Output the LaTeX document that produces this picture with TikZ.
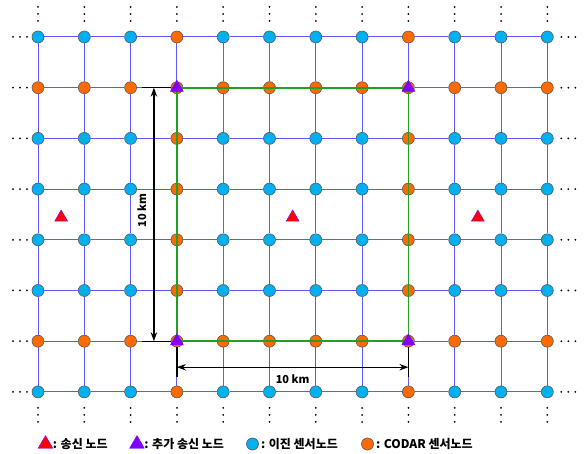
\documentclass[tikz,border=0pt]{standalone}
\usepackage{fontspec}
\newfontfamily\krfont{Noto Sans CJK KR}
\usetikzlibrary{shapes.geometric,positioning,calc,arrows.meta}
\definecolor{binblue}{HTML}{00B0F0}
\definecolor{codarorg}{HTML}{FF6A00}
\definecolor{addviol}{HTML}{7F00FF}
\definecolor{gridblue}{HTML}{5A5AFF}
\definecolor{boxgreen}{HTML}{22A022}
\tikzset{
  sensor/.style={circle,draw=black!65,line width=0.6pt,minimum size=12pt,inner sep=0pt},
  txnode/.style={regular polygon,regular polygon sides=3,minimum size=15pt,inner sep=0pt,draw=addviol,line width=0.4pt,fill=red},
  gridline/.style={gridblue,line width=1pt},
  dimline/.style={black,line width=1.2pt},
  keytext/.style={inner sep=1pt,font=\krfont\bfseries\fontsize{12}{14}\selectfont}
}
\begin{document}
\begin{tikzpicture}[x=1pt,y=-1pt,>={Stealth[length=9pt,width=6.5pt]},line join=round,font=\krfont\bfseries\fontsize{11}{13}\selectfont]
	\def\dx{46.3} \def\dy{50.7} % khoảng cách lưới
	\useasboundingbox (0,0) rectangle (584,454);
	% các nút cảm biến
	\foreach \i in {0,...,11}
	\foreach \j in {0,...,7}{
		\def\fc{binblue}
		\ifnum\i=3 \def\fc{codarorg}\fi
		\ifnum\i=8 \def\fc{codarorg}\fi
		\ifnum\j=1 \def\fc{codarorg}\fi
		\ifnum\j=6 \def\fc{codarorg}\fi
		\node[sensor,fill=\fc] (n\i-\j) at ({38+\i*\dx},{37+\j*\dy}) {};
	}
	\foreach \j in {0,...,7}
	\foreach \i in {1,...,11}{
		\pgfmathtruncatemacro\ip{\i-1}
		\draw[gridline] (n\ip-\j) -- (n\i-\j);
	}
	\foreach \i in {0,...,11}
	\foreach \j in {1,...,7}{
		\pgfmathtruncatemacro\jp{\j-1}
		\draw[gridline] (n\i-\jp) -- (n\i-\j);
	}
	% dấu chấm
	\foreach \j in {0,...,7}
	\foreach \d in {11,18,25}{
		\fill ([xshift=-\d pt]n0-\j.center) circle (1pt);
		\fill ([xshift=\d pt+3pt]n11-\j.center) circle (1pt);
	}
	\foreach \i in {0,...,11}
	\foreach \d in {16,23,30}{
		\fill ([yshift=\d pt]n\i-0.center) circle (1pt);
		\fill ([yshift=-\d pt]n\i-7.center) circle (1pt);
	}
	\draw[boxgreen,line width=1.8pt] (n3-1.center) -- (n8-1.center) -- (n8-6.center) -- (n3-6.center) -- cycle;
	% kích thước
	\coordinate (v1) at ([xshift=-23pt]n3-1.center);
	\coordinate (v2) at ([xshift=-23pt]n3-6.center);
	\draw[dimline] ([xshift=-35pt]n3-1.center) -- (n3-1.west);
	\draw[dimline] ([xshift=-35pt]n3-6.center) -- (n3-6.west);
	\draw[dimline,<->] (v1) -- (v2);
	\node[rotate=90] (vlab) at ($(v1)!.5!(v2)+(-12,-4)$) {10 km};
	\coordinate (h1) at ([yshift=-26pt]n3-6.center);
	\coordinate (h2) at ([yshift=-26pt]n8-6.center);
	\draw[dimline] (n3-6.south) -- ([yshift=-36pt]n3-6.center);
	\draw[dimline] (n8-6.south) -- ([yshift=-36pt]n8-6.center);
	\draw[dimline,<->] (h1) -- (h2);
	\node (hlab) at ($(h1)!.5!(h2)+(0,12)$) {10 km};
	% nút phát
	\node[txnode] (t1) at ($(n0-3)!.5!(n1-4)+(0,3)$) {};
	\node[txnode] (t2) at ($(n5-3)!.5!(n6-4)+(0,3)$) {};
	\node[txnode] (t3) at ($(n9-3)!.5!(n10-4)+(0,3)$) {};
	\node[txnode,fill=addviol] (a1) at (n3-1) {};
	\node[txnode,fill=addviol] (a2) at (n8-1) {};
	\node[txnode,fill=addviol] (a3) at (n3-6) {};
	\node[txnode,fill=addviol] (a4) at (n8-6) {};
	% chú thích
	\node[txnode,minimum size=17pt] (k1) at (45.5,444) {};
	\node[keytext,right=1pt of k1] (k1t) {: 송신 노드};
	\node[txnode,minimum size=17pt,fill=addviol] (k2) at (137,444) {};
	\node[keytext,right=1pt of k2] (k2t) {: 추가 송신 노드};
	\node[sensor,fill=binblue] (k3) at (252.5,444) {};
	\node[keytext,right=1pt of k3] (k3t) {: 이진 센서노드};
	\node[sensor,fill=codarorg] (k4) at (367.5,444) {};
	\node[keytext,right=1pt of k4] (k4t) {: CODAR 센서노드};
\end{tikzpicture}
\end{document}
